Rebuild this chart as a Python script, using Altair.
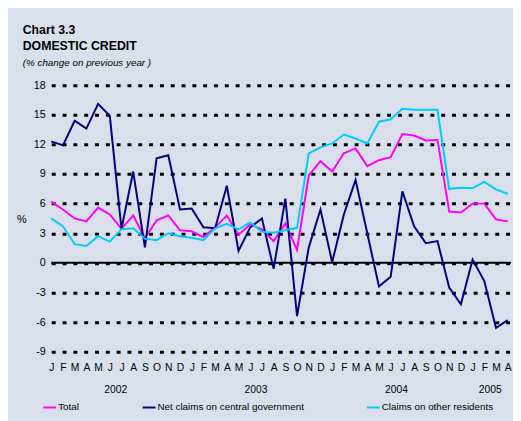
import altair as alt
import pandas as pd

FONT = "Liberation Sans"

month_letters = ['J', 'F', 'M', 'A', 'M', 'J', 'J', 'A', 'S', 'O', 'N', 'D']
years = ['2002', '2003', '2004', '2005']
year_centers = [5.5, 17.5, 29.5, 37.5]
y_ticks = [-9, -6, -3, 0, 3, 6, 9, 12, 15, 18]

series_names = ['Total', 'Net claims on central government', 'Claims on other residents']
series_colors = ['#FF00FF', '#000080', '#00CCFF']

total = [6.2, 5.4, 4.5, 4.2, 5.6, 4.9, 3.45, 4.8, 2.5, 4.3,
         4.8, 3.3, 3.2, 2.6, 3.6, 4.8, 2.85, 3.9, 3.4, 2.2,
         4.0, 1.3, 8.85, 10.3, 9.25, 11.1, 11.6, 9.8, 10.4, 10.7,
         13.05, 12.9, 12.4, 12.45, 5.2, 5.1, 6.0, 6.0, 4.4, 4.2]
net = [12.3, 11.9, 14.4, 13.6, 16.1, 14.9, 3.45, 9.25, 1.56, 10.6,
       10.9, 5.4, 5.5, 3.6, 3.5, 7.8, 1.2, 3.6, 4.5, -0.6,
       6.5, -5.4, 1.56, 5.4, 0.07, 4.9, 8.4, 3.0, -2.4, -1.4,
       7.25, 3.7, 2.0, 2.2, -2.5, -4.2, 0.33, -1.85, -6.6, -5.8]
claims = [4.5, 3.7, 1.9, 1.7, 2.7, 2.15, 3.4, 3.5, 2.45, 2.3,
          3.0, 2.7, 2.55, 2.3, 3.5, 3.95, 3.4, 4.1, 3.15, 3.05,
          3.3, 3.55, 11.1, 11.7, 12.1, 13.0, 12.6, 12.1, 14.3, 14.55,
          15.6, 15.5, 15.5, 15.5, 7.5, 7.6, 7.55, 8.2, 7.45, 7.0]

rows = []
for name, vals in zip(series_names, [total, net, claims]):
    for i, v in enumerate(vals):
        rows.append({'m': i, 'v': v, 's': name})
df = pd.DataFrame(rows)

W, H = 466.5, 271

letters_js = "[" + ",".join("'%s'" % l for l in month_letters) + "]"

x_enc = alt.X('m:Q',
              scale=alt.Scale(domain=[0, 39.2], nice=False, zero=False),
              axis=alt.Axis(values=list(range(40)), tickCount=40,
                            labelExpr=letters_js + "[datum.value % 12]",
                            grid=False, ticks=False, domain=False,
                            labelPadding=11, labelFontSize=10.5,
                            labelOverlap=False, labelFlush=False,
                            title=None))
y_enc = alt.Y('v:Q',
              scale=alt.Scale(domain=[-9, 18], nice=False, zero=False),
              axis=alt.Axis(values=y_ticks, tickCount=10, grid=True,
                            labelExpr="'' + datum.value",
                            gridDash=[4, 7], gridWidth=3, gridColor='black',
                            gridOpacity=1, ticks=False, domain=False,
                            labelPadding=6, labelFontSize=11,
                            labelOverlap=False, title=None))

lines = alt.Chart(df).mark_line(strokeWidth=2).encode(
    x=x_enc,
    y=y_enc,
    color=alt.Color('s:N',
                    scale=alt.Scale(domain=series_names, range=series_colors),
                    legend=alt.Legend(orient='none', legendX=-9, legendY=320,
                                      direction='horizontal', title=None,
                                      symbolType='stroke', symbolStrokeWidth=2,
                                      symbolSize=169, labelFontSize=10,
                                      labelFont=FONT, labelColor='black',
                                      columnPadding=60, labelOffset=1)),
)

zero = alt.Chart(pd.DataFrame({'v': [0]})).mark_rule(color='black', strokeWidth=2).encode(
    y='v:Q', x=alt.value(0), x2=alt.value(W + 1))

year_text = alt.Chart(pd.DataFrame({'m': year_centers, 't': years})).mark_text(
    fontSize=10.5, font=FONT, baseline='middle', color='black').encode(
    x='m:Q', y=alt.value(H + 39), text='t:N')

def label(txt, x, y, size, weight='normal', style='normal', align='left'):
    return alt.Chart(pd.DataFrame({'t': [txt]})).mark_text(
        fontSize=size, font=FONT, fontWeight=weight, fontStyle=style,
        align=align, baseline='alphabetic', color='black').encode(
        x=alt.value(x), y=alt.value(y), text='t:N')

t1 = label('Chart 3.3', -29, -52, 12.5, weight='bold')
t2 = label('DOMESTIC CREDIT', -29, -36, 12.5, weight='bold')
t3 = label('(% change on previous year )', -29, -19, 10, style='italic')
pct = label('%', -30, 140, 11, align='center')

chart = alt.layer(zero, lines, year_text, t1, t2, t3, pct).properties(
    width=W, height=H,
    autosize=alt.AutoSizeParams(type='none'),
    padding={'left': 44, 'top': 75, 'right': 3, 'bottom': 67},
    background='#D9E0EC',
).configure_view(stroke=None).configure_axis(
    labelFont=FONT, labelColor='black')

chart.save("out.html", embed_options={"renderer": "svg", "actions": False})
